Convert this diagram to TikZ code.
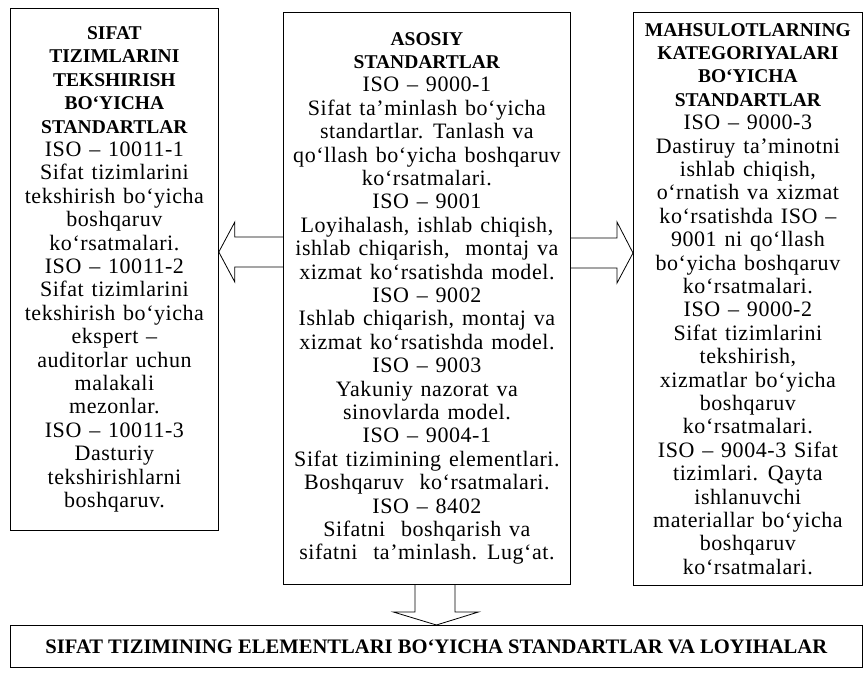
\documentclass[tikz,border=0pt]{standalone}
\usepackage{fontspec}
\setmainfont{Liberation Serif}
\newfontfamily\matnfont[LetterSpace=2.5,WordSpace=1.3]{Liberation Serif}
\usetikzlibrary{calc}
\newcommand{\sarl}[1]{{\normalfont\bfseries\fontsize{19.5}{23.4}\selectfont #1}}
\begin{document}
\begin{tikzpicture}[x=1pt,y=1pt,
  box/.style={draw,line width=0.8pt,rectangle,align=center,anchor=north west,
    inner sep=0pt,font=\matnfont\fontsize{22}{23.4}\selectfont},
  blk/.style={draw,line width=0.8pt,line join=miter}]
\useasboundingbox (0,0) rectangle (865,-673);
\node[box,minimum width=208pt,minimum height=522pt] (tekshir) at (10,-8) {%
\sarl{SIFAT}\\\sarl{TIZIMLARINI}\\\sarl{TEKSHIRISH}\\\sarl{BO‘YICHA}\\\sarl{STANDARTLAR}\\
ISO – 10011-1\\
Sifat tizimlarini\\
tekshirish bo‘yicha\\
boshqaruv\\
ko‘rsatmalari.\\
ISO – 10011-2\\
Sifat tizimlarini\\
tekshirish bo‘yicha\\
ekspert –\\
auditorlar uchun\\
malakali\\
mezonlar.\\
ISO – 10011-3\\
Dasturiy\\
tekshirishlarni\\
boshqaruv.};
\node[box,minimum width=287pt,minimum height=572pt] (asosiy) at (283,-12) {%
\sarl{ASOSIY}\\\sarl{STANDARTLAR}\\
ISO – 9000-1\\
Sifat ta’minlash bo‘yicha\\
standartlar. Tanlash va\\
qo‘llash bo‘yicha boshqaruv\\
ko‘rsatmalari.\\
ISO – 9001\\
Loyihalash, ishlab chiqish,\\
ishlab chiqarish,\ \ montaj va\\
xizmat ko‘rsatishda model.\\
ISO – 9002\\
Ishlab chiqarish, montaj va\\
xizmat ko‘rsatishda model.\\
ISO – 9003\\
Yakuniy nazorat va\\
sinovlarda model.\\
ISO – 9004-1\\
Sifat tizimining elementlari.\\
Boshqaruv\ \ ko‘rsatmalari.\\
ISO – 8402\\
Sifatni\ \ boshqarish va\\
sifatni\ \ ta’minlash. Lug‘at.};
\node[box,minimum width=229pt,minimum height=573pt] (mahsulot) at (633,-12) {%
\sarl{MAHSULOTLARNING}\\\sarl{KATEGORIYALARI}\\\sarl{BO‘YICHA}\\\sarl{STANDARTLAR}\\
ISO – 9000-3\\
Dastiruy ta’minotni\\
ishlab chiqish,\\
o‘rnatish va xizmat\\
ko‘rsatishda ISO –\\
9001 ni qo‘llash\\
bo‘yicha boshqaruv\\
ko‘rsatmalari.\\
ISO – 9000-2\\
Sifat tizimlarini\\
tekshirish,\\
xizmatlar bo‘yicha\\
boshqaruv\\
ko‘rsatmalari.\\
ISO – 9004-3 Sifat\\
tizimlari. Qayta\\
ishlanuvchi\\
materiallar bo‘yicha\\
boshqaruv\\
ko‘rsatmalari.};
\node[box,minimum width=852pt,minimum height=42pt] (elem) at (10,-625)
  {{\normalfont\bfseries\fontsize{20.6}{23.4}\selectfont SIFAT TIZIMINING ELEMENTLARI BO‘YICHA STANDARTLAR VA LOYIHALAR}};
% block arrows
\coordinate (lt) at ($(tekshir.north east)+(0,-244)$);
\coordinate (rt) at ($(mahsulot.north west)+(0,-241)$);
\draw[blk] ($(asosiy.north west)+(0,-225)$) -| ($(lt)+(16,30)$) -- (lt)
  -- ($(lt)+(16,-30)$) |- ($(asosiy.north west)+(0,-255)$);
\draw[blk] ($(asosiy.north east)+(0,-226)$) -| ($(rt)+(-16,31)$) -- (rt)
  -- ($(rt)+(-16,-30)$) |- ($(asosiy.north east)+(0,-256)$);
\draw[blk] ($(asosiy.south west)+(132,0)$) |- ($(elem.north)+(-43,13)$) -- (elem.north)
  -- ($(elem.north)+(42,13)$) -| ($(asosiy.south west)+(172,0)$);
\end{tikzpicture}
\end{document}
